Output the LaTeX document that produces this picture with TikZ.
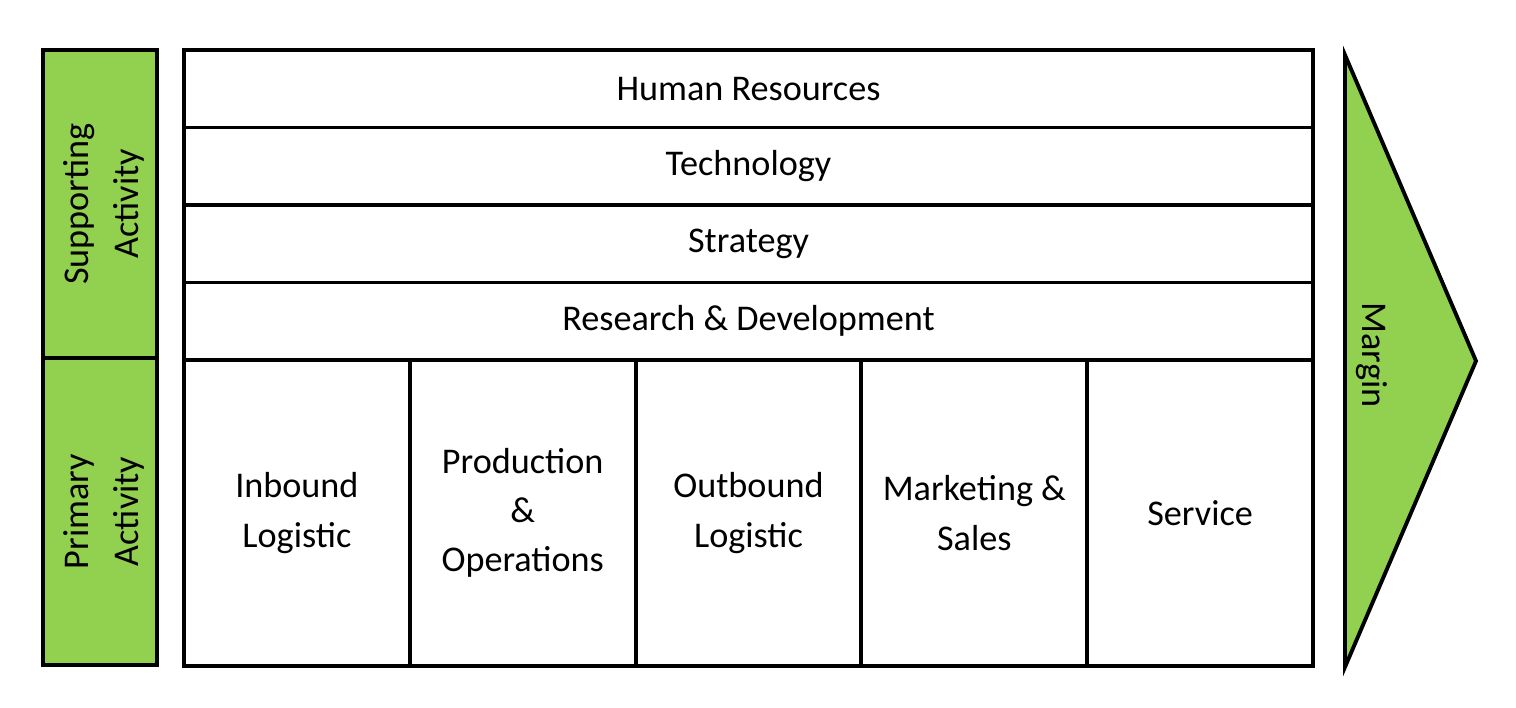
\documentclass[tikz,border=0pt]{standalone}
\usepackage{fontspec}
\setmainfont{Carlito}
\definecolor{chaingreen}{HTML}{92D050}
\tikzset{
  heavy/.style={draw, line width=1.1pt},
  greenbox/.style={heavy, fill=chaingreen, inner sep=0pt, minimum width=1.14cm},
  rowbox/.style={heavy, inner sep=0pt, outer sep=0pt, anchor=north west, minimum width=11.29cm, minimum height=0.775cm},
  colbox/.style={heavy, inner sep=0pt, outer sep=0pt, anchor=north west, minimum width=2.258cm, minimum height=3.06cm, align=center},
}

\begin{document}
\begin{tikzpicture}[font=\fontsize{10.3}{14}\selectfont]
  \useasboundingbox (0,0) rectangle (15.16,7.08);

  % activity labels
  \node[greenbox, minimum height=3.08cm] (support) at (1.00,5.04) {};
  \node[greenbox, minimum height=3.07cm] (primary) at (1.00,1.965) {};
  \node[rotate=90, align=center] (supporttxt) at ([xshift=0.04cm]support.center) {Supporting\\Activity};
  \node[rotate=90, align=center] (primarytxt) at ([xshift=0.04cm]primary.center) {Primary\\Activity};

  % supporting rows
  \foreach \y/\name/\txt in {6.58/hr/Human Resources, 5.805/tech/Technology,
                             5.03/strat/Strategy, 4.255/rnd/Research \& Development} {
    \node[rowbox] (\name) at (1.84,\y) {\txt};
  }

  % primary columns
  \foreach \i/\name/\txt in {0/inbound/Inbound\\Logistic, 1/prod/Production\\\&\\Operations,
                             2/outbound/Outbound\\Logistic, 3/market/Marketing \&\\Sales,
                             4/service/Service} {
    \node[colbox] (\name) at (1.84+\i*2.258,3.48) {\txt};
  }

  % margin arrow
  \draw[heavy, fill=chaingreen, line join=miter] (13.45,6.53) -- (14.76,3.47) -- (13.45,0.41) -- cycle;
  \node[rotate=-90] (margin) at (13.72,3.53) {Margin};
\end{tikzpicture}
\end{document}
